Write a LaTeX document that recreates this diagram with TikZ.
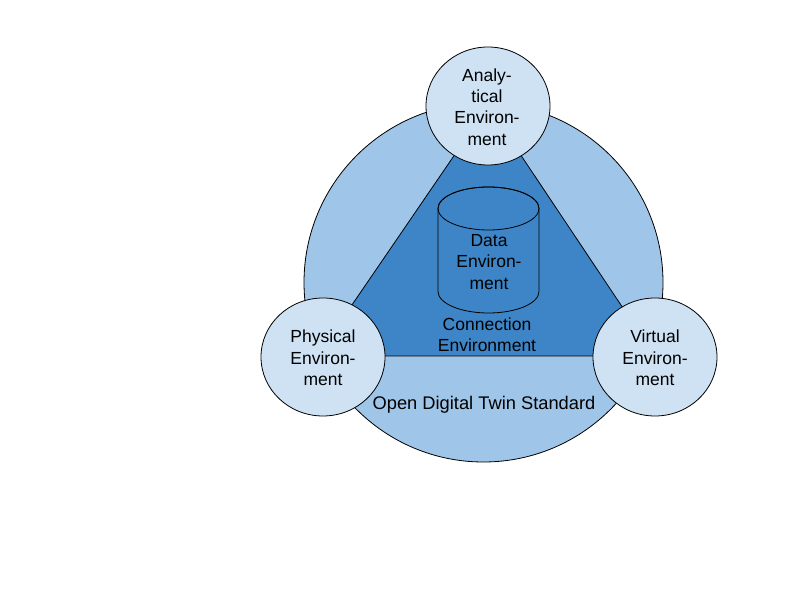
\documentclass[tikz,border=0pt]{standalone}
\usepackage{fontspec}
\setmainfont{Liberation Sans}
\definecolor{lb3}{HTML}{CFE2F3}
\definecolor{lb2}{HTML}{9FC5E8}
\definecolor{db1}{HTML}{3D85C6}
\begin{document}
\begin{tikzpicture}[x=1pt,y=1pt,
  outl/.style={draw=black,line width=0.8pt},
  envcircle/.style={outl,fill=lb3,ellipse,inner sep=0pt},
  lbl/.style={align=center,font=\fontsize{17.5}{21.3}\selectfont,text=black}]
\useasboundingbox (0,0) rectangle (800,600);
% big circle
\fill[lb2] (483.5,317.5) circle[radius=179.5];
\draw[outl] (483.5,317.5) circle[radius=179.5];
% triangle
\coordinate (tA) at (488,494);
\coordinate (tP) at (317,244);
\coordinate (tV) at (655,244);
\filldraw[outl,fill=db1] (tA) -- (tP) -- (tV) -- cycle;
% cylinder
\filldraw[outl,fill=db1] (438,391.5) -- (438,308.5) arc[start angle=180,end angle=360,x radius=50.5,y radius=21.5] -- (539,391.5) arc[start angle=0,end angle=180,x radius=50.5,y radius=21.5] -- cycle;
\draw[outl] (488.5,391.5) ellipse[x radius=50.5,y radius=21.5];
\node[lbl] (data) at (489,338) {Data\\Environ-\\ment};
\node[lbl] (conn) at (487,265) {Connection\\Environment};
\node[lbl,font=\fontsize{18.3}{22}\selectfont] (odts) at (484,195) {Open Digital Twin Standard};
% small circles
\filldraw[outl,fill=lb3] (488,494) ellipse[x radius=62,y radius=59];
\filldraw[outl,fill=lb3] (323,243) ellipse[x radius=62,y radius=59];
\filldraw[outl,fill=lb3] (655,243) ellipse[x radius=62,y radius=59];
\node[lbl] (ana) at (487,493) {Analy-\\tical\\Environ-\\ment};
\node[lbl] (phy) at (323,242) {Physical\\Environ-\\ment};
\node[lbl] (vir) at (655,242) {Virtual\\Environ-\\ment};
\end{tikzpicture}
\end{document}
